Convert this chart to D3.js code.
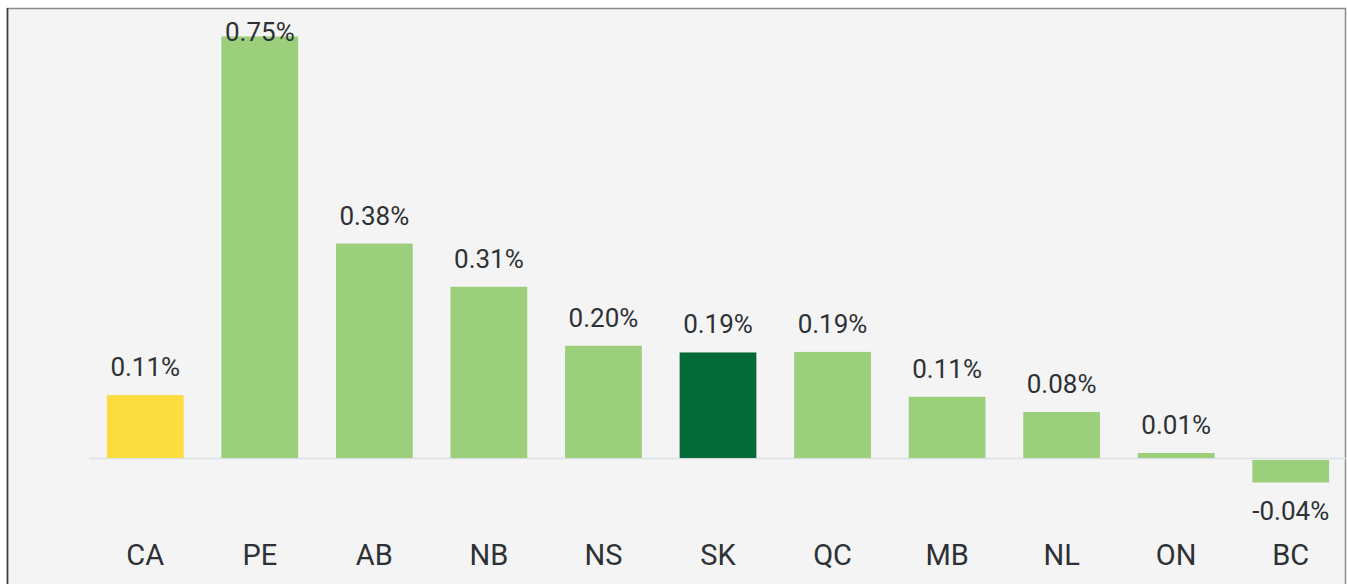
<!DOCTYPE html>
<html>
<head>
<meta charset="utf-8">
<script src="https://cdn.jsdelivr.net/npm/d3@7"></script>
<style>
    body { margin: 0; background: #ffffff; }
    #chart { width: 1347px; height: 584px; }
</style>
</head>
<body>
<div id="chart"></div>
<script>
// province codes and values (%)
const provinces = ['CA', 'PE', 'AB', 'NB', 'NS', 'SK', 'QC', 'MB', 'NL', 'ON', 'BC']
const values = [0.112, 0.751, 0.382, 0.305, 0.200, 0.188, 0.189, 0.109, 0.082, 0.009, -0.040]
const valueLabels = ['0.11%', '0.75%', '0.38%', '0.31%', '0.20%', '0.19%', '0.19%', '0.11%', '0.08%', '0.01%', '-0.04%']

// colours: Canada yellow, Saskatchewan dark green, rest light green
const barColor = code => {
    if (code === 'CA') return '#fcdd3f'
    if (code === 'SK') return '#036937'
    return '#9ccf7c'
}

const plotChart = () => {

    const width = 1347
    const height = 584

    const svg = d3.select('#chart')
        .append('svg')
        .attr('width', width)
        .attr('height', height)

    // panel background + border
    svg.append('rect')
        .attr('x', 7.5)
        .attr('y', 8.5)
        .attr('width', 1338)
        .attr('height', 600)
        .attr('fill', '#f4f4f4')
        .attr('stroke', '#8c8c8c')
        .attr('stroke-width', 1.5)

    svg.append('line')
        .attr('x1', 7.5).attr('x2', 7.5)
        .attr('y1', 8).attr('y2', height)
        .attr('stroke', '#3a3a3a')
        .attr('stroke-width', 1.5)

    const xScale = d3.scaleBand()
        .domain(provinces)
        .range([88, 1348])
        .paddingInner(0.33)
        .paddingOuter(0.165)

    const yScale = d3.scaleLinear()
        .domain([0, 0.75])
        .range([458, 37])

    // zero line
    svg.append('line')
        .attr('x1', 89)
        .attr('x2', 1346)
        .attr('y1', yScale(0) + 0.5)
        .attr('y2', yScale(0) + 0.5)
        .attr('stroke', '#dcdfe2')
        .attr('stroke-width', 1.5)

    const data = provinces.map((p, i) => ({ code: p, value: values[i], label: valueLabels[i] }))

    svg.selectAll('.bar')
        .data(data)
        .enter()
        .append('rect')
            .attr('class', 'bar')
            .attr('x', d => xScale(d.code))
            .attr('y', d => d.value >= 0 ? yScale(d.value) : yScale(0) + 2)
            .attr('width', xScale.bandwidth())
            .attr('height', d => Math.abs(yScale(d.value) - yScale(0)))
            .attr('fill', d => barColor(d.code))

    // value labels
    svg.selectAll('.valueLabel')
        .data(data)
        .enter()
        .append('text')
            .attr('class', 'valueLabel')
            .attr('x', d => xScale(d.code) + xScale.bandwidth() / 2)
            .attr('y', d => {
                if (d.value < 0) return yScale(d.value) + 40
                return Math.max(yScale(d.value) - 19, 41)
            })
            .attr('text-anchor', 'middle')
            .attr('font-family', 'Roboto, "Noto Sans", sans-serif')
            .attr('font-size', '26px')
            .attr('fill', '#2d3135')
            .text(d => d.label)

    // category labels
    svg.selectAll('.catLabel')
        .data(provinces)
        .enter()
        .append('text')
            .attr('class', 'catLabel')
            .attr('x', d => xScale(d) + xScale.bandwidth() / 2)
            .attr('y', 565)
            .attr('text-anchor', 'middle')
            .attr('font-family', 'Roboto, "Noto Sans", sans-serif')
            .attr('font-size', '29px')
            .attr('fill', '#2d3135')
            .text(d => d)
}

plotChart()
</script>
</body>
</html>
